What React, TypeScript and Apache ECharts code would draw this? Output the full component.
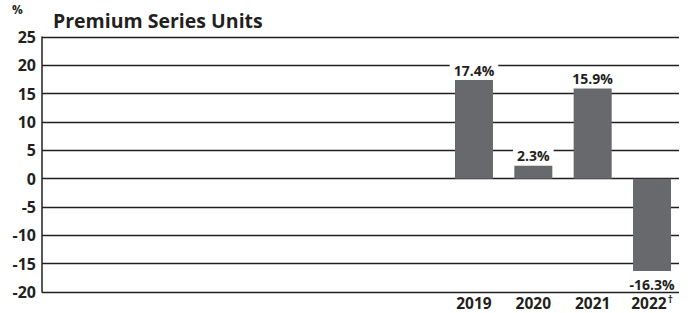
import React, { useEffect, useRef } from "react";
import * as echarts from "echarts";

const years = ["2019", "2020", "2021", "2022"];
const yearNotes = ["", "", "", "†"];
const values = [17.4, 2.3, 15.9, -16.3];
const yTicks = { min: -20, max: 25, interval: 5 };
const titleText = "Premium Series Units";
const unitText = "%";

const INK = "#231f20";
const BAR = "#68696d";
const FONT = "'Open Sans', 'DejaVu Sans', sans-serif";

export default function App() {
  const ref = useRef<HTMLDivElement>(null);
  useEffect(() => {
    if (!ref.current) return;
    const chart = echarts.init(ref.current, null, { renderer: "svg" });
    chart.setOption({
      animation: false,
      backgroundColor: "#ffffff",
      textStyle: { fontFamily: FONT },
      title: {
        text: titleText,
        left: 48,
        top: 5,
        textStyle: { fontFamily: FONT, fontSize: 19.5, fontWeight: "bold", color: INK },
      },
      graphic: [
        {
          type: "text",
          left: 12,
          top: 3,
          style: { text: unitText, font: `bold 12px ${FONT}`, fill: INK },
        },
      ],
      grid: [
        { left: 42, right: 11, top: 37, bottom: 21 },
        { left: 444.3, right: 8.3, top: 37, bottom: 21 },
      ],
      xAxis: [
        { type: "category", gridIndex: 0, data: [""], show: false },
        {
          type: "category",
          gridIndex: 1,
          data: years.map((y, i) => y + (yearNotes[i] ? `{sup|${yearNotes[i]}}` : "")),
          axisLine: { show: false },
          axisTick: { show: false },
          axisLabel: {
            interval: 0,
            margin: 3,
            color: INK,
            fontFamily: FONT,
            fontWeight: "bold",
            fontSize: 15.5,
            lineHeight: 16,
            rich: {
              sup: { fontSize: 10, fontWeight: "bold", color: INK, fontFamily: FONT, lineHeight: 16, padding: [0, 0, 8, 1] },
            },
          },
        },
      ],
      yAxis: [
        {
          type: "value",
          gridIndex: 0,
          min: yTicks.min,
          max: yTicks.max,
          interval: yTicks.interval,
          axisLine: { show: true, lineStyle: { color: INK, width: 1.5 } },
          axisTick: { show: false },
          axisLabel: { color: INK, fontFamily: FONT, fontWeight: "bold", fontSize: 16, margin: 6 },
          splitLine: { show: true, lineStyle: { color: INK, width: 1.3 } },
        },
        {
          type: "value",
          gridIndex: 1,
          min: yTicks.min,
          max: yTicks.max,
          interval: yTicks.interval,
          show: false,
          splitLine: { show: false },
        },
      ],
      series: [
        {
          type: "bar",
          xAxisIndex: 1,
          yAxisIndex: 1,
          barWidth: 38,
          itemStyle: { color: BAR },
          data: values.map((v) => ({
            value: v,
            label: {
              show: true,
              position: v >= 0 ? "top" : "bottom",
              distance: v >= 0 ? 3 : 5,
              formatter: () => `${v.toFixed(1)}%`,
              color: INK,
              fontFamily: FONT,
              fontWeight: "bold",
              fontSize: 14,
              backgroundColor: "#ffffff",
              padding: [1, 4, 0, 4],
            },
          })),
        },
      ],
    });
    return () => chart.dispose();
  }, []);
  return <div ref={ref} style={{ width: 690, height: 313, position: "absolute", left: 0, top: 0 }} />;
}
